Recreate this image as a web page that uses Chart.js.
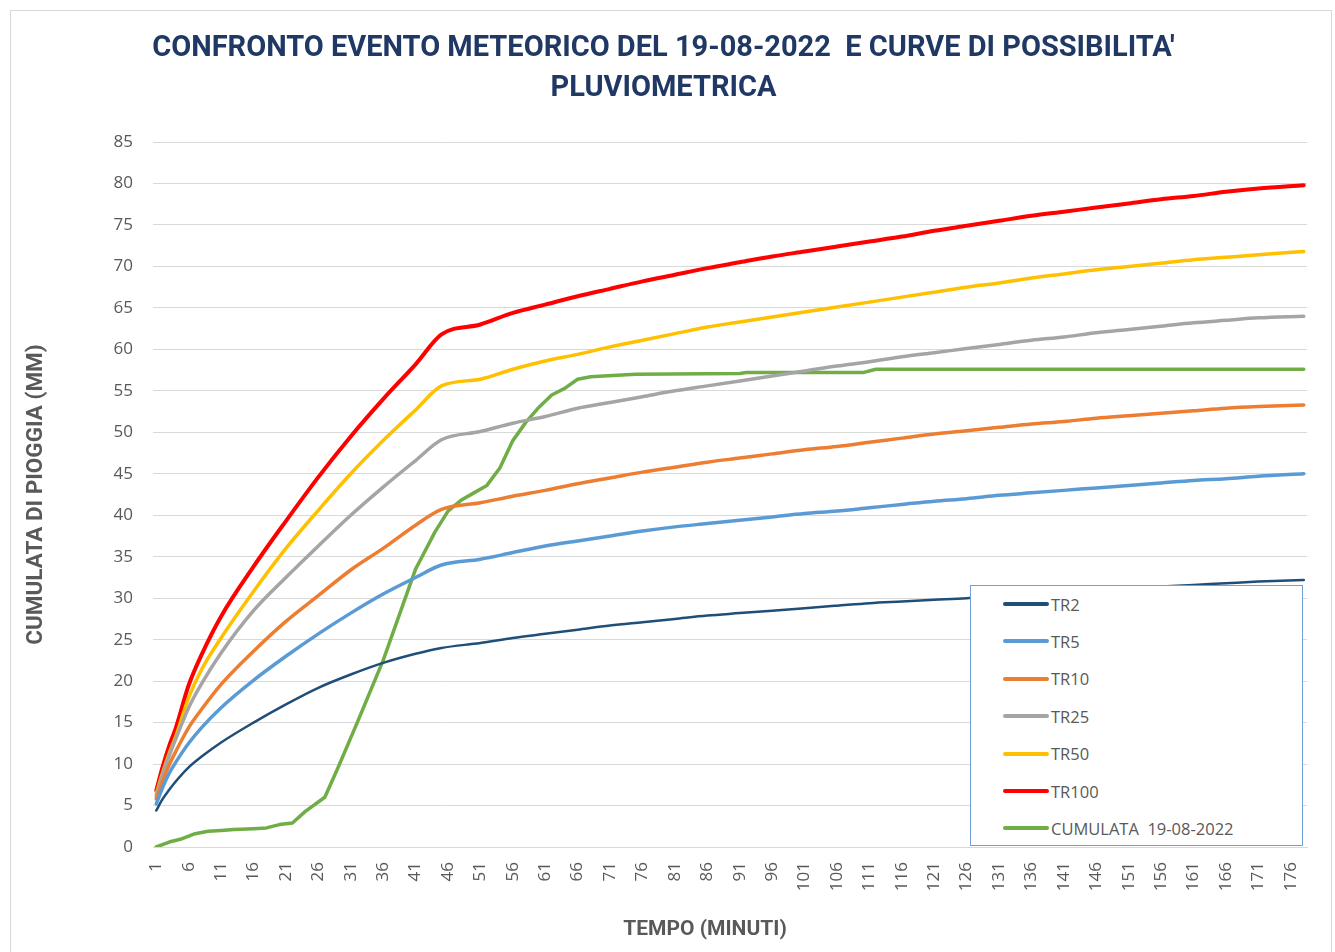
<!DOCTYPE html>
<html>
<head>
<meta charset="utf-8">
<script src="https://cdn.jsdelivr.net/npm/chart.js@4.4.1/dist/chart.umd.min.js"></script>
<style>
  body { margin: 0; background: #fff; }
  #frame { position: absolute; left: 10px; top: 10px; width: 1320px; height: 960px; border: 1px solid #d9d9d9; }
  #wrap { position: absolute; left: 0; top: 0; width: 1335px; height: 952px; }
  #xtitle { position: absolute; left: 505px; width: 400px; top: 916px; text-align: center; font-family: 'Roboto', sans-serif; font-weight: bold; font-size: 21px; color: #595959; }
  #legend { position: absolute; left: 970px; top: 585px; width: 331px; height: 259px; background: #fff; border: 1px solid #6fa0d8; }
  .row { position: absolute; left: 32px; height: 20px; display: flex; align-items: center; font-family: 'Open Sans', sans-serif; font-size: 16.5px; color: #595959; white-space: pre; }
  .row span.sw { display: inline-block; width: 46px; height: 4px; margin-right: 2px; border-radius: 2px; }
</style>
</head>
<body>
<div id="frame"></div>
<div id="wrap"><canvas id="chart"></canvas></div>
<div id="xtitle">TEMPO (MINUTI)</div>
<div id="legend"></div>
<script>
// minutes 1..178 on the category axis
const labels = Array.from({ length: 178 }, (_, i) => String(i + 1));

const minutes = [1, 2, 3, 4, 6, 8, 11, 16, 21, 26, 31, 36, 41, 45, 51, 56, 61, 66, 71, 76,
  81, 86, 91, 96, 101, 106, 111, 116, 121, 126, 131, 136, 141, 146, 151, 156, 161, 166, 171, 178];

const tr2 = [4.4, 5.8, 6.9, 7.9, 9.6, 10.9, 12.6, 15.0, 17.2, 19.2, 20.8, 22.2, 23.3, 24.0, 24.6, 25.2, 25.7, 26.2, 26.7, 27.1,
  27.5, 27.9, 28.2, 28.5, 28.8, 29.1, 29.4, 29.6, 29.8, 30.0, 30.3, 30.5, 30.8, 31.0, 31.2, 31.4, 31.6, 31.8, 32.0, 32.2];
const tr5 = [5.2, 7.2, 8.9, 10.2, 12.5, 14.4, 16.8, 20.1, 23.0, 25.7, 28.2, 30.5, 32.5, 34.0, 34.7, 35.5, 36.3, 36.9, 37.5, 38.1,
  38.6, 39.0, 39.4, 39.8, 40.2, 40.5, 40.9, 41.3, 41.7, 42.0, 42.4, 42.7, 43.0, 43.3, 43.6, 43.9, 44.2, 44.4, 44.7, 45.0];
const tr10 = [5.8, 8.0, 9.9, 11.5, 14.4, 16.6, 19.6, 23.6, 27.2, 30.3, 33.4, 36.0, 38.8, 40.7, 41.5, 42.3, 43.0, 43.8, 44.5, 45.2,
  45.8, 46.4, 46.9, 47.4, 47.9, 48.3, 48.8, 49.3, 49.8, 50.2, 50.6, 51.0, 51.3, 51.7, 52.0, 52.3, 52.6, 52.9, 53.1, 53.3];
const tr25 = [6.1, 8.8, 11.0, 13.0, 16.8, 19.7, 23.4, 28.5, 32.5, 36.3, 40.0, 43.4, 46.6, 49.1, 50.1, 51.1, 51.9, 52.9, 53.6, 54.3,
  55.0, 55.6, 56.2, 56.8, 57.4, 58.0, 58.5, 59.1, 59.6, 60.1, 60.6, 61.1, 61.5, 62.0, 62.4, 62.8, 63.2, 63.5, 63.8, 64.0];
const tr50 = [6.4, 9.0, 11.3, 13.3, 18.0, 21.4, 25.2, 30.8, 36.0, 40.6, 45.0, 49.0, 52.7, 55.6, 56.4, 57.6, 58.6, 59.4, 60.3, 61.1,
  61.9, 62.7, 63.3, 63.9, 64.5, 65.1, 65.7, 66.3, 66.9, 67.5, 68.0, 68.6, 69.1, 69.6, 70.0, 70.4, 70.8, 71.1, 71.4, 71.8];
const tr100 = [6.8, 9.7, 12.2, 14.3, 19.5, 23.2, 27.8, 33.8, 39.3, 44.6, 49.5, 54.0, 58.2, 61.8, 63.0, 64.4, 65.4, 66.4, 67.3, 68.2,
  69.0, 69.8, 70.5, 71.2, 71.8, 72.4, 73.0, 73.6, 74.3, 74.9, 75.5, 76.1, 76.6, 77.1, 77.6, 78.1, 78.5, 79.0, 79.4, 79.8];

// cumulative rain of the event
const cumMinutes = [1, 3, 5, 7, 9, 11, 13, 16, 18, 20, 22, 24, 27, 29, 32, 36, 41, 42, 44, 46, 48, 50, 52, 54, 56, 58, 60, 62,
  64, 66, 68, 70, 75, 91, 92, 110, 112, 178];
const cumulata = [0, 0.6, 1.0, 1.6, 1.9, 2.0, 2.1, 2.2, 2.3, 2.7, 2.9, 4.3, 6.0, 9.5, 15.0, 22.5, 33.5, 35.0, 38.0, 40.5, 41.8,
  42.7, 43.6, 45.7, 49.0, 51.2, 53.0, 54.5, 55.3, 56.4, 56.7, 56.8, 57.0, 57.1, 57.2, 57.2, 57.6, 57.6];

const titleLines = ["CONFRONTO EVENTO METEORICO DEL 19-08-2022  E CURVE DI POSSIBILITA'", "PLUVIOMETRICA"];

const pts = (xs, ys) => xs.map((m, i) => ({ x: String(m), y: ys[i] }));
const head = "'Roboto', sans-serif";

const series = [
  { label: "TR2", data: pts(minutes, tr2), color: "#1f4e79", width: 2.5 },
  { label: "TR5", data: pts(minutes, tr5), color: "#5b9bd5", width: 3.5 },
  { label: "TR10", data: pts(minutes, tr10), color: "#ed7d31", width: 3.5 },
  { label: "TR25", data: pts(minutes, tr25), color: "#a5a5a5", width: 3.5 },
  { label: "TR50", data: pts(minutes, tr50), color: "#ffc000", width: 3.5 },
  { label: "TR100", data: pts(minutes, tr100), color: "#ff0000", width: 4 },
  { label: "CUMULATA  19-08-2022", data: pts(cumMinutes, cumulata), color: "#70ad47", width: 3.5, straight: true },
];

const ctx = document.getElementById("chart");

new Chart(ctx, {
  type: "line",
  data: {
    labels: labels,
    datasets: series.map(s => ({
      label: s.label,
      data: s.data,
      borderColor: s.color,
      backgroundColor: s.color,
      borderWidth: s.width,
      pointRadius: 0,
      fill: false,
      cubicInterpolationMode: s.straight ? "default" : "monotone",
      tension: 0,
      borderCapStyle: "round",
      borderJoinStyle: "round",
    })),
  },
  options: {
    responsive: true,
    maintainAspectRatio: false,
    animation: false,
    layout: { padding: { left: 20, right: 28, top: 0, bottom: 6 } },
    plugins: {
      legend: { display: false },
      tooltip: { enabled: false },
      title: {
        display: true,
        text: titleLines,
        color: "#203864",
        font: { family: head, size: 29, weight: "bold", lineHeight: 1.38 },
        padding: { top: 29, bottom: 33 },
      },
    },
    scales: {
      x: {
        type: "category",
        offset: true,
        grid: { display: false },
        border: { color: "#d9d9d9", width: 1 },
        ticks: {
          autoSkip: false,
          minRotation: 90,
          maxRotation: 90,
          padding: 7,
          color: "#595959",
          font: { family: "'Open Sans', sans-serif", size: 17 },
          callback: (v, i) => (i % 5 === 0 ? labels[i] : null),
        },
        afterFit: s => { s.height = 99; },
      },
      y: {
        min: 0,
        max: 85,
        grid: { color: "#d9d9d9", drawTicks: false },
        border: { display: false },
        ticks: {
          stepSize: 5,
          padding: 20,
          color: "#595959",
          font: { family: "'Open Sans', sans-serif", size: 17 },
        },
        title: {
          display: true,
          text: "CUMULATA DI PIOGGIA (MM)",
          color: "#595959",
          font: { family: head, size: 22.5, weight: "bold" },
          padding: { top: 3, bottom: 4 },
        },
        afterFit: s => { s.width = 133; },
      },
    },
  },
});

// legend box drawn inside the plot, like the original
const legend = document.getElementById("legend");
series.forEach((s, i) => {
  const row = document.createElement("div");
  row.className = "row";
  row.style.top = (8 + i * 37.4) + "px";
  row.innerHTML = '<span class="sw" style="background:' + s.color + '"></span>' + s.label;
  legend.appendChild(row);
});
</script>
</body>
</html>
